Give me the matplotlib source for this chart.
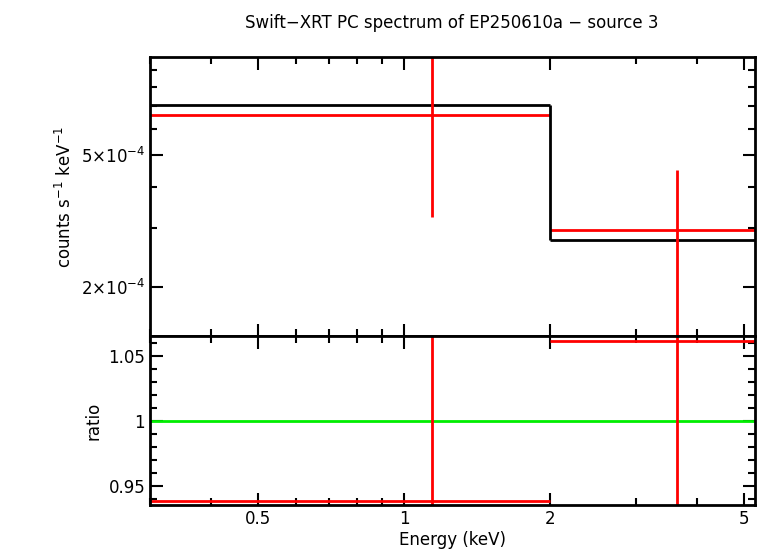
import numpy as np
import matplotlib.pyplot as plt
from matplotlib.ticker import FixedLocator, NullFormatter, NullLocator

# === DATA ===
bin_lo = [0.3, 2.0]
bin_hi = [2.0, 5.27]
data_x = [1.14, 3.65]
data_y = [6.6e-4, 2.97e-4]
data_err_lo = [3.25e-4, 1.0e-4]
data_err_hi = [1.2e-3, 4.5e-4]
model_y = [7.08e-4, 2.77e-4]
ratio_y = [0.938, 1.0615]
ratio_err_lo = [0.9, 0.9]
ratio_err_hi = [1.1, 1.1]

fig = plt.figure(figsize=(7.63, 5.56), dpi=100)
ax1 = fig.add_axes([150/763, 1-336/556, 605/763, 279/556])
ax2 = fig.add_axes([150/763, 1-505/556, 605/763, 169/556], sharex=ax1)

# top panel: model steps and data
for lo, hi, m, d in zip(bin_lo, bin_hi, model_y, data_y):
    ax1.hlines(m, lo, hi, color="black", lw=2)
    ax1.hlines(d, lo, hi, color="red", lw=2)
ax1.vlines(bin_lo[1], model_y[1], model_y[0], color="black", lw=2)
ax1.vlines(data_x, data_err_lo, data_err_hi, color="red", lw=2)

# bottom panel: ratio
ax2.axhline(1.0, color="#00ee00", lw=2)
for lo, hi, r in zip(bin_lo, bin_hi, ratio_y):
    ax2.hlines(r, lo, hi, color="red", lw=2)
ax2.vlines(data_x, ratio_err_lo, ratio_err_hi, color="red", lw=2)

ax1.set_xscale("log")
ax1.set_xlim(0.3, 5.27)
ax1.set_yscale("log")
ax1.set_ylim(1.42e-4, 9.86e-4)
ax1.yaxis.set_major_locator(FixedLocator([2e-4, 5e-4]))
ax1.yaxis.set_minor_locator(FixedLocator([3e-4, 4e-4, 6e-4, 7e-4, 8e-4, 9e-4]))
ax1.set_yticklabels(["2×10$^{-4}$", "5×10$^{-4}$"])
ax1.yaxis.set_minor_formatter(NullFormatter())
ax1.set_ylabel("counts s$^{-1}$ keV$^{-1}$", fontsize=12)
plt.setp(ax1.get_xticklabels(which="both"), visible=False)

ax2.set_ylim(0.935, 1.0654)
ax2.set_yticks([0.95, 1.0, 1.05])
ax2.set_yticklabels(["0.95", "1", "1.05"])
ax2.yaxis.set_minor_locator(FixedLocator(np.arange(0.94, 1.07, 0.01)))
ax2.set_xticks([0.5, 1, 2, 5])
ax2.set_xticklabels(["0.5", "1", "2", "5"])
ax2.xaxis.set_minor_locator(FixedLocator([0.3, 0.4, 0.6, 0.7, 0.8, 0.9, 3, 4]))
ax2.xaxis.set_minor_formatter(NullFormatter())
ax2.set_ylabel("ratio", fontsize=12)
ax2.set_xlabel("Energy (keV)", fontsize=12, labelpad=2)

for ax in (ax1, ax2):
    for s in ax.spines.values():
        s.set_linewidth(2)
    ax.tick_params(which="both", direction="in", top=True, right=True, labelsize=12, width=1.5)
    ax.tick_params(which="major", length=9)
    ax.tick_params(which="minor", length=5)

fig.suptitle("Swift\u2212XRT PC spectrum of EP250610a \u2212 source 3", x=452/763, y=0.975, fontsize=12)
fig.savefig("out.png", dpi=100)
